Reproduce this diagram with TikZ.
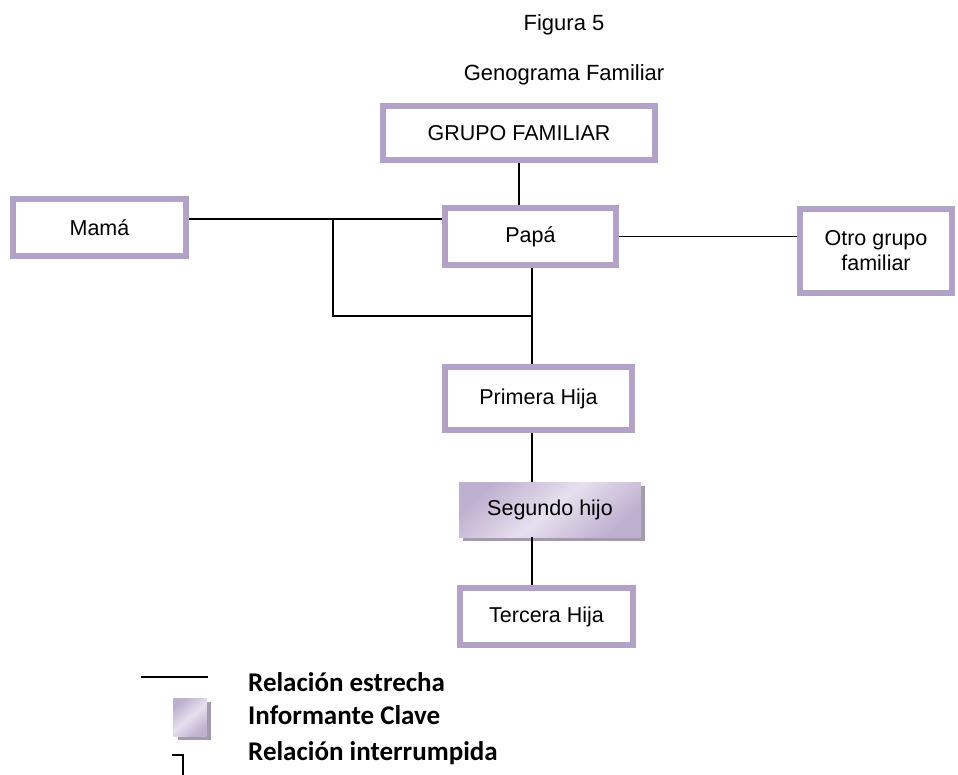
\documentclass[tikz,border=0pt]{standalone}
\usepackage{fontspec}
\setmainfont{Liberation Sans}
\newfontfamily\legfont{Carlito}
\usepackage{xcolor}
\usetikzlibrary{shadows}
\definecolor{lavborde}{HTML}{B3A2C7}
\definecolor{lavclaro}{HTML}{E6E0EE}
\definecolor{lavsombra}{HTML}{A39BAD}
\tikzset{
  caja/.style={draw=lavborde, line width=6pt, fill=white, inner sep=0pt,
    align=center, font=\fontsize{21.5}{25}\selectfont},
  clave/.style={inner sep=0pt, align=center, font=\fontsize{21.5}{25}\selectfont,
    top color=lavborde!85!white, bottom color=lavborde!85!white, middle color=lavclaro, shading angle=40,
    drop shadow={shadow xshift=4pt, shadow yshift=-4pt, fill=lavsombra, opacity=1}},
  linea/.style={black, line width=1.6pt},
  leyenda/.style={anchor=base west, inner sep=0pt, font=\legfont\bfseries\fontsize{27}{31}\selectfont}
}
\begin{document}
\begin{tikzpicture}[x=1pt, y=-1pt]
\useasboundingbox (0,0) rectangle (958,775);
\node (fig) at (564,25) {\fontsize{22}{26}\selectfont Figura 5};
\node (gen) at (564,75) {\fontsize{22}{26}\selectfont Genograma Familiar};

\coordinate (j1) at (333,219);
\coordinate (j2) at (532,316);

\node[caja, minimum width=272pt, minimum height=54pt] (grupo) at (519,133) {GRUPO FAMILIAR};
\node[caja, minimum width=171pt, minimum height=57pt] (papa) at (530.5,236.5) {Papá};
\node[caja, minimum width=173pt, minimum height=57pt] (mama) at (99.5,227.5) {Mamá};
\node[caja, minimum width=152pt, minimum height=84pt] (otro) at (876,251) {Otro grupo\\familiar};
\node[caja, minimum width=187pt, minimum height=63pt] (primera) at (538.5,398.5) {Primera Hija};
\node[clave, minimum width=182pt, minimum height=55pt] (segundo) at (550,509.5) {Segundo hijo};
\node[caja, minimum width=173pt, minimum height=57pt] (tercera) at (546.5,616.5) {Tercera Hija};

\draw[linea] (grupo.south) -- (grupo.south |- papa.north);
\draw[linea] (mama.east |- j1) -- (papa.west |- j1);
\draw[linea] (j1) |- (j2);
\draw[linea] (papa.east) -- (papa.east -| otro.west);
\draw[linea] (papa.south -| j2) -- (primera.north -| j2);
\draw[linea] (primera.south -| j2) -- (segundo.north -| j2);
\draw[linea] (segundo.south -| j2) -- (tercera.north -| j2);

\coordinate (l1) at (141,677);
\coordinate (l2) at (208,677);
\draw[linea] (l1) -- (l2);
\node[clave, minimum width=33pt, minimum height=38pt] (cuadro) at (190,717) {};
\coordinate (r1) at (172,755);
\coordinate (r2) at (183,775);
\draw[linea] (r1) -| (r2);

\node[leyenda] (t1) at (248,691) {Relación estrecha};
\node[leyenda] (t2) at (248,724) {Informante Clave};
\node[leyenda] (t3) at (248,760) {Relación interrumpida};
\end{tikzpicture}
\end{document}
